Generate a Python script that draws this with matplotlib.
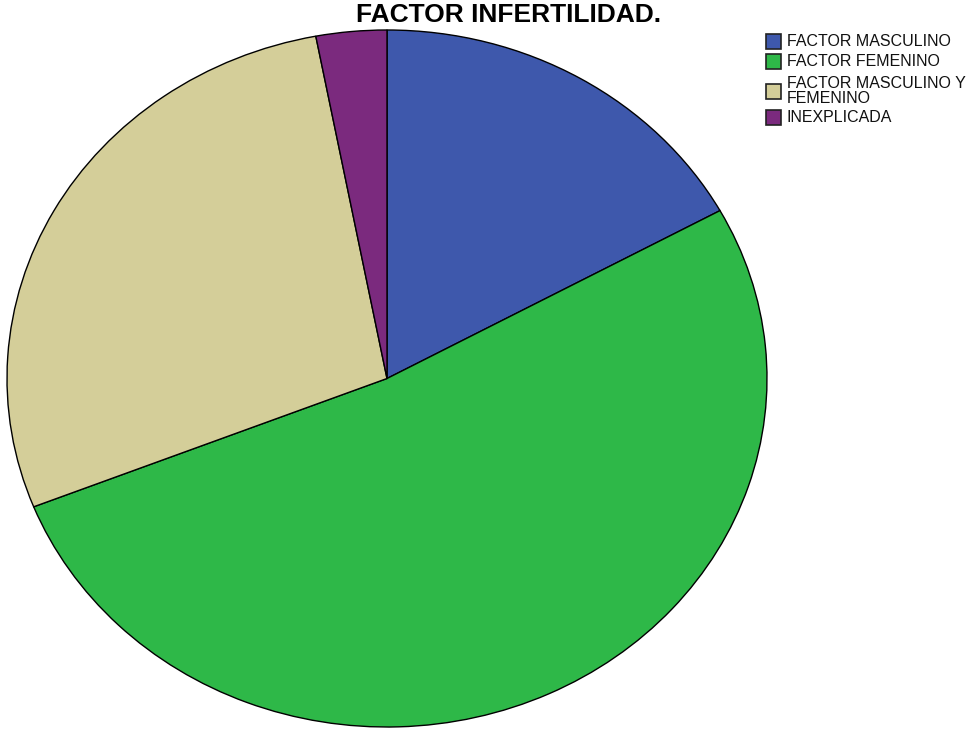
import matplotlib.pyplot as plt
from matplotlib.patches import Rectangle

plt.rcParams['font.family'] = ['Liberation Sans', 'DejaVu Sans']

categories = ['FACTOR MASCULINO', 'FACTOR FEMENINO',
              'FACTOR MASCULINO Y\nFEMENINO', 'INEXPLICADA']
values = [17, 52, 28, 3]
colors = ['#3e58ac', '#2eb848', '#d4ce99', '#7b2a7e']

W, H = 979, 730
fig = plt.figure(figsize=(W / 100, H / 100), dpi=100)

# pie is stretched into an ellipse, like the original export
ax = fig.add_axes([7 / W, 3 / H, 760 / W, 697 / H])
ax.pie(values, colors=colors, startangle=90, counterclock=False,
       wedgeprops=dict(edgecolor='black', linewidth=1.0))
ax.set_aspect('auto')
ax.set_xlim(-1.0, 1.0)
ax.set_ylim(-1.0, 1.0)
ax.axis('off')

fig.text(509 / W, 1 - 15 / H, 'FACTOR INFERTILIDAD.', ha='center', va='center',
         fontsize=19, fontweight='bold')

# legend drawn by hand (pixel rows of the original)
rows = [41, 61, 91, 117]
for label, color, yc in zip(categories, colors, rows):
    fig.patches.append(Rectangle((766 / W, 1 - (yc + 7.5) / H), 15 / W, 15 / H,
                                 transform=fig.transFigure, facecolor=color,
                                 edgecolor='#222222', linewidth=1.2))
    fig.text(787 / W, 1 - yc / H, label, ha='left', va='center',
             fontsize=11.5, linespacing=0.95, color='#111111')

plt.savefig('out.png', dpi=100)
